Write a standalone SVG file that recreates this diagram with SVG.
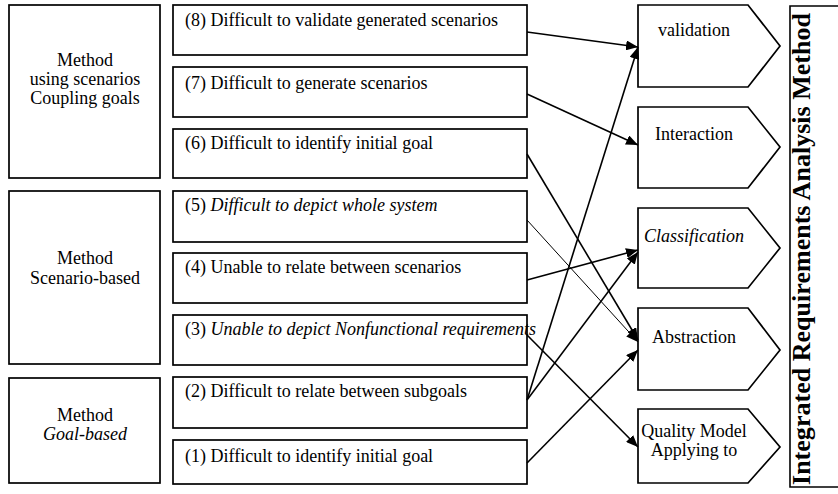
<svg xmlns="http://www.w3.org/2000/svg" width="838" height="494" viewBox="0 0 838 494">
  <style>
    .box { fill: #fff; stroke: #000; stroke-width: 1.7; }
    .t { font-family: "Liberation Serif", "Times New Roman", serif; font-size: 18px; fill: #000; }
    .c { text-anchor: middle; }
    .i { font-style: italic; }
    .edge { fill: none; stroke: #000; stroke-width: 1.6; }
    .thin { stroke-width: 1; }
    .title { font-family: "Liberation Serif", "Times New Roman", serif; font-size: 26px; font-weight: bold; fill: #000; }
  </style>
  <defs>
    <marker id="arrow" markerUnits="userSpaceOnUse" markerWidth="12" markerHeight="10" refX="12" refY="5" orient="auto">
      <path d="M0,0 L12,5 L0,10 z" fill="#000"/>
    </marker>
  </defs>

  <rect width="838" height="494" fill="#fff"/>

  <!-- method groups -->
  <g id="method-coupling">
    <rect class="box" x="9" y="5" width="151" height="173"/>
    <text class="t c" x="85" y="66">Method</text>
    <text class="t c" x="85" y="85">using scenarios</text>
    <text class="t c" x="85" y="104">Coupling goals</text>
  </g>
  <g id="method-scenario">
    <rect class="box" x="9" y="191" width="151" height="173"/>
    <text class="t c" x="85" y="264">Method</text>
    <text class="t c" x="85" y="284">Scenario-based</text>
  </g>
  <g id="method-goal">
    <rect class="box" x="9" y="378" width="151" height="105"/>
    <text class="t c" x="85" y="421">Method</text>
    <text class="t c i" x="85" y="440">Goal-based</text>
  </g>

  <!-- problems -->
  <g id="p8">
    <rect class="box" x="173" y="5" width="354" height="50"/>
    <text class="t" x="185" y="26">(8) Difficult to validate generated scenarios</text>
  </g>
  <g id="p7">
    <rect class="box" x="173" y="67" width="354" height="50"/>
    <text class="t" x="185" y="89">(7) Difficult to generate scenarios</text>
  </g>
  <g id="p6">
    <rect class="box" x="173" y="129" width="354" height="49"/>
    <text class="t" x="185" y="149">(6) Difficult to identify initial goal</text>
  </g>
  <g id="p5">
    <rect class="box" x="173" y="191" width="354" height="51"/>
    <text class="t" x="185" y="211">(5) <tspan class="i">Difficult to depict whole system</tspan></text>
  </g>
  <g id="p4">
    <rect class="box" x="173" y="253" width="354" height="50"/>
    <text class="t" x="185" y="273">(4) Unable to relate between scenarios</text>
  </g>
  <g id="p3">
    <rect class="box" x="173" y="315" width="354" height="50"/>
    <text class="t" x="185" y="335">(3) <tspan class="i">Unable to depict Nonfunctional requirements</tspan></text>
  </g>
  <g id="p2">
    <rect class="box" x="173" y="377" width="354" height="51"/>
    <text class="t" x="185" y="397">(2) Difficult to relate between subgoals</text>
  </g>
  <g id="p1">
    <rect class="box" x="173" y="440" width="354" height="44"/>
    <text class="t" x="185" y="462">(1) Difficult to identify initial goal</text>
  </g>

  <!-- integration steps -->
  <g id="s-validation">
    <path class="box" d="M638,5 H748 L780,46 L748,87 H638 Z"/>
    <text class="t c" x="694" y="36">validation</text>
  </g>
  <g id="s-interaction">
    <path class="box" d="M638,107 H748 L780,147 L748,188 H638 Z"/>
    <text class="t c" x="694" y="140">Interaction</text>
  </g>
  <g id="s-classification">
    <path class="box" d="M638,208 H748 L780,248 L748,288 H638 Z"/>
    <text class="t c i" x="694" y="242">Classification</text>
  </g>
  <g id="s-abstraction">
    <path class="box" d="M638,308 H748 L780,350 L748,390 H638 Z"/>
    <text class="t c" x="694" y="343">Abstraction</text>
  </g>
  <g id="s-quality">
    <path class="box" d="M638,409 H748 L780,447 L748,483 H638 Z"/>
    <text class="t c" x="694" y="437">Quality Model</text>
    <text class="t c" x="694" y="456">Applying to</text>
  </g>

  <!-- method title bracket -->
  <g id="title">
    <path class="edge" d="M838,6 H790 V487 H838"/>
    <text class="title" transform="translate(810,485) rotate(-90)" textLength="472" lengthAdjust="spacing">Integrated Requirements Analysis Method</text>
  </g>

  <!-- connectors -->
  <g id="connectors">
    <line class="edge" x1="527" y1="32" x2="638" y2="47" marker-end="url(#arrow)"/>
    <line class="edge" x1="527" y1="94" x2="638" y2="145" marker-end="url(#arrow)"/>
    <line class="edge" x1="527" y1="154" x2="638" y2="340" marker-end="url(#arrow)"/>
    <line class="edge thin" x1="527" y1="220" x2="638" y2="342" marker-end="url(#arrow)"/>
    <line class="edge" x1="527" y1="280" x2="638" y2="250" marker-end="url(#arrow)"/>
    <line class="edge" x1="527" y1="335" x2="638" y2="447" marker-end="url(#arrow)"/>
    <line class="edge" x1="527" y1="400" x2="638" y2="47" marker-end="url(#arrow)"/>
    <line class="edge" x1="527" y1="400" x2="638" y2="252" marker-end="url(#arrow)"/>
    <line class="edge" x1="527" y1="463" x2="638" y2="350" marker-end="url(#arrow)"/>
  </g>
</svg>
